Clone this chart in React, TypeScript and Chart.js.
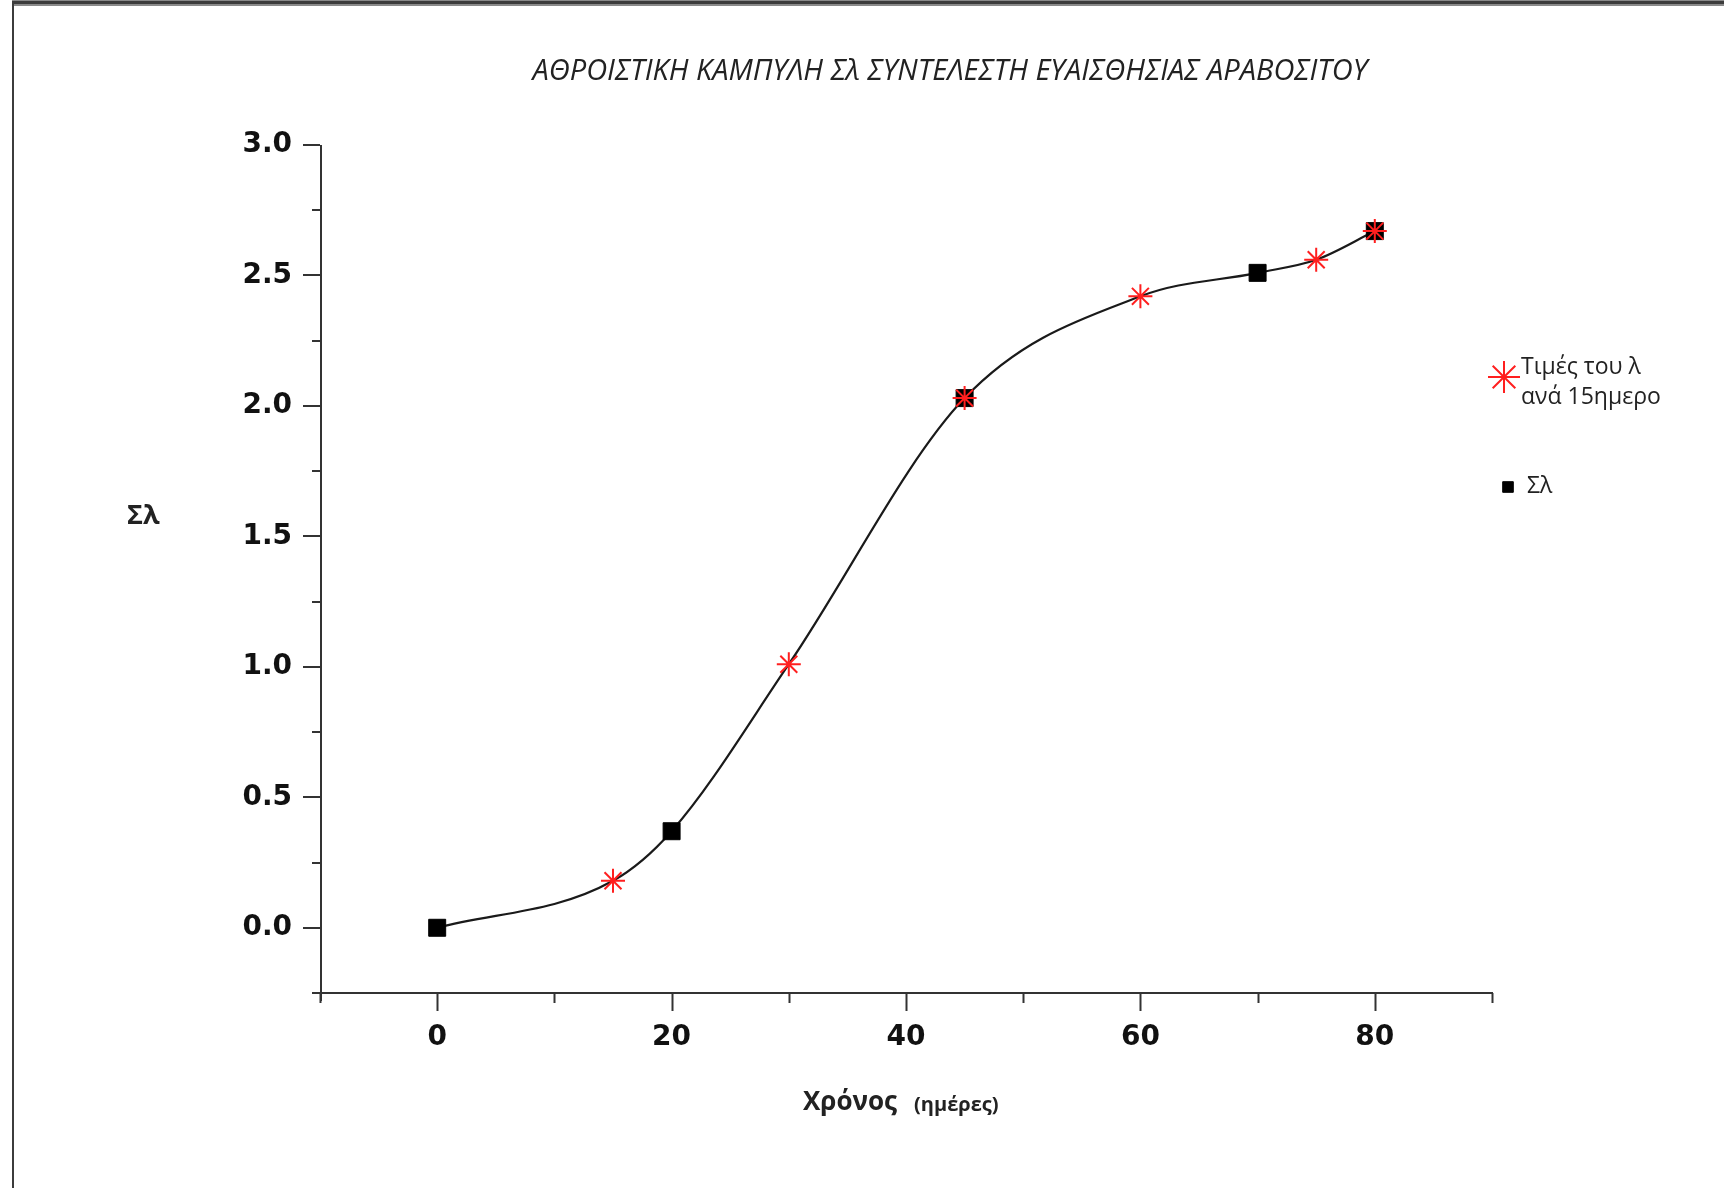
import React, { useEffect, useRef } from 'react';
import { Chart, registerables } from 'chart.js';
import { drawPoint } from 'chart.js/helpers';

Chart.register(...registerables);

// Texts
const TITLE = 'ΑΘΡΟΙΣΤΙΚΗ ΚΑΜΠΥΛΗ Σλ ΣΥΝΤΕΛΕΣΤΗ ΕΥΑΙΣΘΗΣΙΑΣ ΑΡΑΒΟΣΙΤΟΥ';
const X_TITLE_MAIN = 'Χρόνος';
const X_TITLE_UNIT = '(ημέρες)';
const Y_TITLE = 'Σλ';

// λ values every 15 days (days, value)
const lambdaDays = [15, 30, 45, 60, 75, 80];
const lambdaValues = [0.18, 1.01, 2.03, 2.42, 2.56, 2.67];
const lambdaLegend = ['Τιμές του λ', 'ανά 15ημερο'];

// Cumulative Σλ (days, value)
const sumDays = [0, 20, 45, 70, 80];
const sumValues = [0, 0.37, 2.03, 2.51, 2.67];
const sumLegend = 'Σλ';

// Axis ranges and tick steps
const X_MIN = -10;
const X_MAX = 90;
const X_STEP = 10;
const X_LABEL_EVERY = 20;
const Y_MIN = -0.25;
const Y_MAX = 3.0;
const Y_STEP = 0.25;
const Y_LABEL_EVERY = 0.5;

const W = 1724;
const H = 1188;

const RED = '#ff1f1f';
const INK = '#1a1a1a';

type Pt = { x: number; y: number };

const lambdaPoints: Pt[] = lambdaDays.map((d, i) => ({ x: d, y: lambdaValues[i] }));
const sumPoints: Pt[] = sumDays.map((d, i) => ({ x: d, y: sumValues[i] }));

// The smooth curve runs through every measured point, ordered by day.
const curvePoints: Pt[] = (() => {
  const byDay = new Map<number, number>();
  [...sumPoints, ...lambdaPoints].forEach((p) => byDay.set(p.x, p.y));
  return [...byDay.entries()].sort((a, b) => a[0] - b[0]).map(([x, y]) => ({ x, y }));
})();

const isMultiple = (v: number, step: number) => {
  const r = v / step;
  return Math.abs(r - Math.round(r)) < 1e-9;
};

const line = (ctx: CanvasRenderingContext2D, x1: number, y1: number, x2: number, y2: number) => {
  ctx.beginPath();
  ctx.moveTo(x1, y1);
  ctx.lineTo(x2, y2);
  ctx.stroke();
};

const decorPlugin = {
  id: 'decor',
  beforeDraw(chart: any) {
    const ctx: CanvasRenderingContext2D = chart.ctx;
    ctx.save();
    ctx.fillStyle = '#ffffff';
    ctx.fillRect(0, 0, chart.width, chart.height);
    // frame: top and left edges
    ctx.fillStyle = '#8a8a8a';
    ctx.fillRect(12, 0, chart.width - 12, 6);
    ctx.fillStyle = '#3c3c3c';
    ctx.fillRect(12, 1, chart.width - 12, 3);
    ctx.fillRect(12, 1, 2, chart.height);
    ctx.restore();
  },
  beforeDatasetsDraw(chart: any) {
    const ctx: CanvasRenderingContext2D = chart.ctx;
    const { left, right, top, bottom } = chart.chartArea;
    const xs = chart.scales.x;
    const ys = chart.scales.y;
    ctx.save();
    ctx.strokeStyle = '#333333';
    ctx.lineWidth = 2;
    ctx.lineCap = 'butt';
    // axis lines
    line(ctx, left + 1, top, left + 1, bottom + 8);
    line(ctx, left - 6, bottom, right + 1, bottom);
    // y ticks (outside, to the left)
    ys.ticks.forEach((t: any) => {
      const py = Math.round(ys.getPixelForValue(t.value));
      const major = isMultiple(t.value, Y_LABEL_EVERY);
      line(ctx, left - (major ? 17 : 8), py, left, py);
    });
    // x ticks (outside, below)
    xs.ticks.forEach((t: any) => {
      const px = Math.round(xs.getPixelForValue(t.value)) + 0.5;
      const major = isMultiple(t.value, X_LABEL_EVERY);
      line(ctx, px, bottom, px, bottom + (major ? 18 : 10));
    });
    ctx.restore();
  },
  afterDraw(chart: any) {
    const ctx: CanvasRenderingContext2D = chart.ctx;
    ctx.save();
    ctx.fillStyle = '#222222';
    ctx.textBaseline = 'middle';

    // title
    ctx.font = 'italic 29px "Open Sans"';
    ctx.textAlign = 'center';
    ctx.fillText(TITLE, 950, 72);

    // x axis title
    ctx.textAlign = 'left';
    ctx.font = 'bold 26px "Open Sans"';
    const mainW = ctx.measureText(X_TITLE_MAIN).width;
    ctx.fillText(X_TITLE_MAIN, 803, 1103);
    ctx.font = 'bold 20px "Open Sans"';
    ctx.fillText(X_TITLE_UNIT, 803 + mainW + 17, 1105);

    // y axis title
    ctx.font = 'bold 27px "Open Sans"';
    ctx.fillText(Y_TITLE, 127, 516);

    // legend
    const lambdaDs = chart.data.datasets[0];
    const sumDs = chart.data.datasets[1];
    ctx.strokeStyle = lambdaDs.borderColor;
    ctx.lineWidth = 2;
    drawPoint(ctx, { pointStyle: 'star', radius: 16, borderWidth: 2, rotation: 0 } as any, 1504, 377);
    ctx.fillStyle = '#222222';
    ctx.font = '23px "Open Sans"';
    ctx.fillText(lambdaLegend[0], 1521, 367);
    ctx.fillText(lambdaLegend[1], 1521, 397);

    ctx.fillStyle = sumDs.backgroundColor;
    ctx.strokeStyle = sumDs.borderColor;
    ctx.lineWidth = 1;
    drawPoint(ctx, { pointStyle: 'rect', radius: 7.5, borderWidth: 1, rotation: 0 } as any, 1508, 487);
    ctx.fillStyle = '#222222';
    ctx.fillText(sumLegend, 1527, 486);
    ctx.restore();
  },
};

export default function App() {
  const ref = useRef<HTMLCanvasElement>(null);

  useEffect(() => {
    const canvas = ref.current;
    if (!canvas) return;
    const chart = new Chart(canvas, {
      type: 'scatter',
      data: {
        datasets: [
          {
            label: lambdaLegend.join(' '),
            data: lambdaPoints,
            showLine: false,
            pointStyle: 'star',
            pointRadius: 12,
            borderColor: RED,
            backgroundColor: RED,
            pointBorderWidth: 2,
            order: 0,
          },
          {
            label: sumLegend,
            data: sumPoints,
            showLine: false,
            pointStyle: 'rect',
            pointRadius: 12,
            borderColor: '#000000',
            backgroundColor: '#000000',
            pointBorderWidth: 1,
            order: 1,
          },
          {
            label: 'curve',
            data: curvePoints,
            showLine: true,
            pointRadius: 0,
            borderColor: INK,
            borderWidth: 2.2,
            cubicInterpolationMode: 'monotone',
            order: 2,
          } as any,
        ],
      },
      options: {
        responsive: false,
        devicePixelRatio: 1,
        animation: false,
        layout: { padding: { left: 0, top: 145, right: 232, bottom: 0 } },
        plugins: {
          legend: { display: false },
          title: { display: false },
          tooltip: { enabled: false },
        },
        scales: {
          x: {
            type: 'linear',
            position: 'bottom',
            min: X_MIN,
            max: X_MAX,
            grid: { display: false },
            border: { display: false },
            ticks: {
              stepSize: X_STEP,
              autoSkip: false,
              maxRotation: 0,
              padding: 20,
              color: '#111111',
              font: { family: '"DejaVu Sans"', weight: 'bold', size: 28 },
              callback: (v: any) => (isMultiple(Number(v), X_LABEL_EVERY) ? String(v) : ''),
            },
            afterFit: (scale: any) => {
              scale.height = 195;
            },
          },
          y: {
            type: 'linear',
            min: Y_MIN,
            max: Y_MAX,
            grid: { display: false },
            border: { display: false },
            ticks: {
              stepSize: Y_STEP,
              autoSkip: false,
              padding: 20,
              color: '#111111',
              font: { family: '"DejaVu Sans"', weight: 'bold', size: 28 },
              callback: (v: any) => (isMultiple(Number(v), Y_LABEL_EVERY) ? Number(v).toFixed(1) : ''),
            },
            afterFit: (scale: any) => {
              scale.width = 320;
            },
          },
        },
      } as any,
      plugins: [decorPlugin],
    });
    return () => chart.destroy();
  }, []);

  return (
    <div style={{ position: 'absolute', left: 0, top: 0, width: W, height: H, background: '#fff' }}>
      <canvas ref={ref} width={W} height={H} style={{ display: 'block', width: W, height: H }} />
    </div>
  );
}
